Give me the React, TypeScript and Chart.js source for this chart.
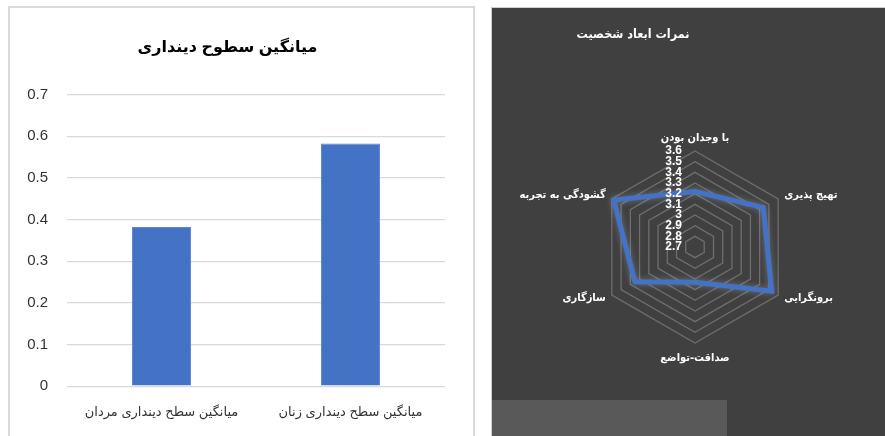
import React, { useEffect, useRef } from 'react';
import { Chart, registerables } from 'chart.js';

Chart.register(...registerables);

const FONT = "'Liberation Sans', 'DejaVu Sans', sans-serif";
const FA_FONT = "'DejaVu Sans Condensed', 'DejaVu Sans', sans-serif";

// ---- Bar chart data ----
const barTitle = 'میانگین سطوح دینداری';
const barCategories = ['میانگین سطح دینداری مردان', 'میانگین سطح دینداری زنان'];
const barValues = [0.382, 0.583];
const barAxisMin = 0;
const barAxisMax = 0.7;
const barAxisStep = 0.1;

// ---- Radar chart data ----
const radarTitle = 'نمرات ابعاد شخصیت';
const radarLabels = ['با وجدان بودن', 'تهیج پذیری', 'برونگرایی', 'صداقت-تواضع', 'سازگاری', 'گشودگی به تجربه'];
const radarValues = [3.22, 3.44, 3.53, 3.03, 3.35, 3.58];
const radarMin = 2.7;
const radarMax = 3.6;
const radarStep = 0.1;

function BarPanel() {
  const ref = useRef<HTMLCanvasElement | null>(null);
  useEffect(() => {
    if (!ref.current) return;
    const chart = new Chart(ref.current, {
      type: 'bar',
      data: {
        labels: barCategories,
        datasets: [
          {
            data: barValues,
            backgroundColor: '#4472C4',
            borderColor: '#5b86d2',
            borderWidth: 1,
            barPercentage: 0.312,
            categoryPercentage: 1,
          },
        ],
      },
      options: {
        animation: false,
        responsive: true,
        maintainAspectRatio: false,
        layout: { padding: { left: 0, right: 28, top: 0, bottom: 6.2 } },
        plugins: {
          legend: { display: false },
          tooltip: { enabled: false },
          title: {
            display: true,
            text: barTitle,
            color: '#000',
            font: { family: FONT, size: 16, weight: 'bold' },
            padding: { top: 29.5, bottom: 38 },
          },
        },
        scales: {
          x: {
            grid: { display: false, drawTicks: false },
            border: { display: false },
            ticks: { color: '#333', font: { family: FONT, size: 13 }, padding: 18 },
          },
          y: {
            min: barAxisMin,
            max: barAxisMax,
            ticks: { stepSize: barAxisStep, color: '#333', font: { family: FONT, size: 15 }, padding: 19 },
            grid: { color: '#d9d9d9', lineWidth: 1.3, drawTicks: false },
            border: { display: false },
            afterFit: (s: any) => {
              s.width = 57;
            },
          },
        },
      } as any,
    });
    return () => chart.destroy();
  }, []);
  return <canvas ref={ref} />;
}

function RadarPanel() {
  const ref = useRef<HTMLCanvasElement | null>(null);
  useEffect(() => {
    if (!ref.current) return;
    const textPlugin = {
      id: 'radarText',
      beforeDatasetsDraw(chart: any) {
        const ctx = chart.ctx;
        ctx.save();
        ctx.shadowColor = 'rgba(170,180,200,0.45)';
        ctx.shadowBlur = 6;
      },
      afterDatasetsDraw(chart: any) {
        chart.ctx.restore();
      },
      afterDraw(chart: any) {
        const s = chart.scales.r;
        const ctx = chart.ctx;
        ctx.save();
        ctx.fillStyle = '#ffffff';
        // title
        ctx.font = `bold 12.5px ${FA_FONT}`;
        ctx.textAlign = 'center';
        ctx.textBaseline = 'middle';
        ctx.fillText(radarTitle, 141, 27);
        // tick labels
        ctx.font = `bold 12px ${FONT}`;
        ctx.textAlign = 'right';
        s.ticks.forEach((t: any) => {
          const d = s.getDistanceFromCenterForValue(t.value);
          ctx.fillText(String(t.label), s.xCenter - 13, s.yCenter - d);
        });
        // point labels
        ctx.font = `bold 11px ${FA_FONT}`;
        chart.data.labels.forEach((lab: string, i: number) => {
          const p = s.getPointPosition(i, s.drawingArea + 7);
          const dx = p.x - s.xCenter;
          let y = p.y;
          if (Math.abs(dx) < 1) {
            ctx.textAlign = 'center';
            const above = p.y < s.yCenter;
            ctx.textBaseline = above ? 'bottom' : 'top';
            if (!above) y += 3;
          } else {
            ctx.textAlign = dx > 0 ? 'left' : 'right';
            ctx.textBaseline = 'middle';
          }
          ctx.fillText(lab, p.x, y);
        });
        ctx.restore();
      },
    };
    const chart = new Chart(ref.current, {
      type: 'radar',
      data: {
        labels: radarLabels,
        datasets: [
          {
            data: radarValues,
            borderColor: '#4472C4',
            borderWidth: 5,
            fill: false,
            pointRadius: 0,
            pointHoverRadius: 0,
          },
        ],
      },
      options: {
        animation: false,
        responsive: true,
        maintainAspectRatio: false,
        layout: { padding: { left: 107, right: 94, top: 143.5, bottom: 92.5 } },
        plugins: {
          legend: { display: false },
          tooltip: { enabled: false },
          title: { display: false },
        },
        scales: {
          r: {
            min: radarMin,
            max: radarMax,
            ticks: {
              display: false,
              stepSize: radarStep,
              callback: (v: number) => String(Number(v.toFixed(1))),
            },
            grid: { color: '#6e6e6e', lineWidth: 1.3 },
            angleLines: { display: false },
            pointLabels: { display: false },
          },
        },
      } as any,
      plugins: [textPlugin],
    });
    return () => chart.destroy();
  }, []);
  return <canvas ref={ref} />;
}

export default function App() {
  return (
    <div
      style={{
        position: 'absolute',
        left: 0,
        top: 0,
        width: 885,
        height: 436,
        overflow: 'hidden',
        background: '#ffffff',
      }}
    >
      <div
        style={{
          position: 'absolute',
          left: 8,
          top: 6,
          width: 467,
          height: 440,
          border: '2px solid #d9d9d9',
          boxSizing: 'border-box',
        }}
      >
        <div style={{ position: 'absolute', left: 0, top: 0, width: 463, height: 436 }}>
          <BarPanel />
        </div>
      </div>
      <div
        style={{
          position: 'absolute',
          left: 491,
          top: 7,
          width: 394,
          height: 429,
          background: '#404040',
          borderTop: '1px solid #cfcfcf',
          borderLeft: '1px solid #cfcfcf',
          boxSizing: 'border-box',
        }}
      >
        <div style={{ position: 'absolute', left: 0, top: 0, width: 393, height: 428 }}>
          <RadarPanel />
        </div>
      </div>
      <div
        style={{
          position: 'absolute',
          left: 492,
          top: 400,
          width: 235,
          height: 36,
          background: '#595959',
        }}
      />
    </div>
  );
}
